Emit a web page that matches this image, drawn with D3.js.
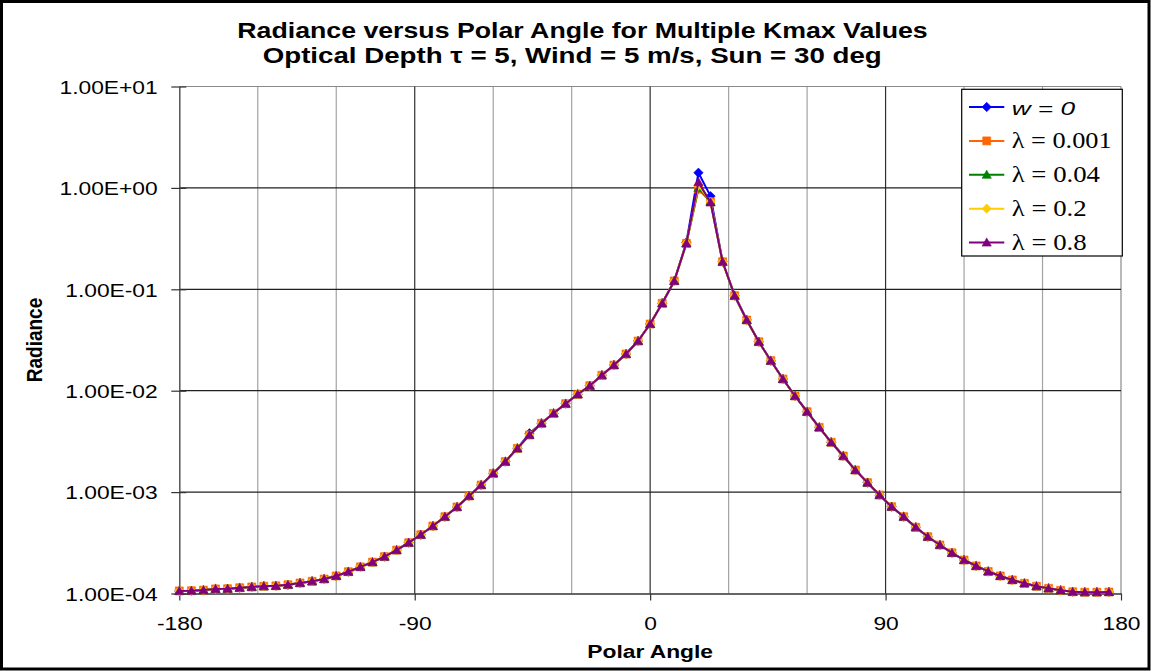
<!DOCTYPE html>
<html>
<head>
<meta charset="utf-8">
<script src="https://cdn.jsdelivr.net/npm/d3@7"></script>
<style>
  html, body { margin: 0; padding: 0; background: #ffffff; }
  svg { display: block; }
</style>
</head>
<body>
<svg id="chart" width="1151" height="671"></svg>
<script>
// Polar angles (degrees) at which radiance was computed
const angles = [
  -180.00, -175.38, -170.77, -166.15, -161.54, -156.92, -152.31, -147.69, -143.08, -138.46,
  -133.85, -129.23, -124.62, -120.00, -115.38, -110.77, -106.15, -101.54, -96.92, -92.31,
  -87.69, -83.08, -78.46, -73.85, -69.23, -64.62, -60.00, -55.38, -50.77, -46.15,
  -41.54, -36.92, -32.31, -27.69, -23.08, -18.46, -13.85, -9.23, -4.62, 0.00,
  4.62, 9.23, 13.85, 18.46, 23.08, 27.69, 32.31, 36.92, 41.54, 46.15,
  50.77, 55.38, 60.00, 64.62, 69.23, 73.85, 78.46, 83.08, 87.69, 92.31,
  96.92, 101.54, 106.15, 110.77, 115.38, 120.00, 124.62, 129.23, 133.85, 138.46,
  143.08, 147.69, 152.31, 156.92, 161.54, 166.15, 170.77, 175.38
];

// Radiance, w = 0
const radianceW0 = [
  1.06e-4, 1.065e-4, 1.08e-4, 1.11e-4, 1.115e-4, 1.14e-4, 1.16e-4, 1.18e-4, 1.19e-4, 1.22e-4,
  1.27e-4, 1.32e-4, 1.39e-4, 1.49e-4, 1.64e-4, 1.83e-4, 2.04e-4, 2.31e-4, 2.68e-4, 3.17e-4,
  3.80e-4, 4.63e-4, 5.72e-4, 7.13e-4, 9.16e-4, 1.175e-3, 1.53e-3, 2.00e-3, 2.70e-3, 3.80e-3,
  4.77e-3, 5.98e-3, 7.45e-3, 9.22e-3, 1.12e-2, 1.42e-2, 1.79e-2, 2.30e-2, 3.09e-2, 4.55e-2,
  7.28e-2, 0.121, 0.29, 1.41, 0.83, 0.187, 0.0865, 0.0498, 0.0304, 0.01977,
  0.01304, 8.87e-3, 6.21e-3, 4.35e-3, 3.10e-3, 2.27e-3, 1.65e-3, 1.24e-3, 9.36e-4, 7.18e-4,
  5.72e-4, 4.50e-4, 3.63e-4, 3.01e-4, 2.52e-4, 2.14e-4, 1.87e-4, 1.65e-4, 1.49e-4, 1.36e-4,
  1.26e-4, 1.18e-4, 1.125e-4, 1.075e-4, 1.04e-4, 1.03e-4, 1.03e-4, 1.035e-4
];

// Radiance, lambda = 0.001
const radianceL0001 = [
  1.06e-4, 1.065e-4, 1.08e-4, 1.11e-4, 1.115e-4, 1.14e-4, 1.16e-4, 1.18e-4, 1.19e-4, 1.22e-4,
  1.27e-4, 1.32e-4, 1.39e-4, 1.49e-4, 1.64e-4, 1.83e-4, 2.04e-4, 2.31e-4, 2.68e-4, 3.17e-4,
  3.80e-4, 4.63e-4, 5.72e-4, 7.13e-4, 9.16e-4, 1.175e-3, 1.53e-3, 2.00e-3, 2.70e-3, 3.66e-3,
  4.77e-3, 5.98e-3, 7.45e-3, 9.22e-3, 1.12e-2, 1.42e-2, 1.79e-2, 2.30e-2, 3.09e-2, 4.55e-2,
  7.28e-2, 0.121, 0.284, 0.97, 0.73, 0.187, 0.0865, 0.0498, 0.0304, 0.01977,
  0.01304, 8.87e-3, 6.21e-3, 4.35e-3, 3.10e-3, 2.27e-3, 1.65e-3, 1.24e-3, 9.36e-4, 7.18e-4,
  5.72e-4, 4.50e-4, 3.63e-4, 3.01e-4, 2.52e-4, 2.14e-4, 1.87e-4, 1.65e-4, 1.49e-4, 1.36e-4,
  1.26e-4, 1.18e-4, 1.125e-4, 1.075e-4, 1.04e-4, 1.03e-4, 1.03e-4, 1.035e-4
];

// Radiance, lambda = 0.04
const radianceL004 = [
  1.06e-4, 1.065e-4, 1.08e-4, 1.11e-4, 1.115e-4, 1.14e-4, 1.16e-4, 1.18e-4, 1.19e-4, 1.22e-4,
  1.27e-4, 1.32e-4, 1.39e-4, 1.49e-4, 1.64e-4, 1.83e-4, 2.04e-4, 2.31e-4, 2.68e-4, 3.17e-4,
  3.80e-4, 4.63e-4, 5.72e-4, 7.13e-4, 9.16e-4, 1.175e-3, 1.53e-3, 2.00e-3, 2.70e-3, 3.66e-3,
  4.77e-3, 5.98e-3, 7.45e-3, 9.22e-3, 1.12e-2, 1.42e-2, 1.79e-2, 2.30e-2, 3.09e-2, 4.55e-2,
  7.28e-2, 0.121, 0.284, 1.00, 0.73, 0.187, 0.0865, 0.0498, 0.0304, 0.01977,
  0.01304, 8.87e-3, 6.21e-3, 4.35e-3, 3.10e-3, 2.27e-3, 1.65e-3, 1.24e-3, 9.36e-4, 7.18e-4,
  5.72e-4, 4.50e-4, 3.63e-4, 3.01e-4, 2.52e-4, 2.14e-4, 1.87e-4, 1.65e-4, 1.49e-4, 1.36e-4,
  1.26e-4, 1.18e-4, 1.125e-4, 1.075e-4, 1.04e-4, 1.03e-4, 1.03e-4, 1.035e-4
];

// Radiance, lambda = 0.2
const radianceL02 = [
  1.06e-4, 1.065e-4, 1.08e-4, 1.11e-4, 1.115e-4, 1.14e-4, 1.16e-4, 1.18e-4, 1.19e-4, 1.22e-4,
  1.27e-4, 1.32e-4, 1.39e-4, 1.49e-4, 1.64e-4, 1.83e-4, 2.04e-4, 2.31e-4, 2.68e-4, 3.17e-4,
  3.80e-4, 4.63e-4, 5.72e-4, 7.13e-4, 9.16e-4, 1.175e-3, 1.53e-3, 2.00e-3, 2.70e-3, 3.66e-3,
  4.77e-3, 5.98e-3, 7.45e-3, 9.22e-3, 1.12e-2, 1.42e-2, 1.79e-2, 2.30e-2, 3.09e-2, 4.55e-2,
  7.28e-2, 0.121, 0.284, 1.06, 0.73, 0.187, 0.0865, 0.0498, 0.0304, 0.01977,
  0.01304, 8.87e-3, 6.21e-3, 4.35e-3, 3.10e-3, 2.27e-3, 1.65e-3, 1.24e-3, 9.36e-4, 7.18e-4,
  5.72e-4, 4.50e-4, 3.63e-4, 3.01e-4, 2.52e-4, 2.14e-4, 1.87e-4, 1.65e-4, 1.49e-4, 1.36e-4,
  1.26e-4, 1.18e-4, 1.125e-4, 1.075e-4, 1.04e-4, 1.03e-4, 1.03e-4, 1.035e-4
];

// Radiance, lambda = 0.8
const radianceL08 = [
  1.06e-4, 1.065e-4, 1.08e-4, 1.11e-4, 1.115e-4, 1.14e-4, 1.16e-4, 1.18e-4, 1.19e-4, 1.22e-4,
  1.27e-4, 1.32e-4, 1.39e-4, 1.49e-4, 1.64e-4, 1.83e-4, 2.04e-4, 2.31e-4, 2.68e-4, 3.17e-4,
  3.80e-4, 4.63e-4, 5.72e-4, 7.13e-4, 9.16e-4, 1.175e-3, 1.53e-3, 2.00e-3, 2.70e-3, 3.66e-3,
  4.77e-3, 5.98e-3, 7.45e-3, 9.22e-3, 1.12e-2, 1.42e-2, 1.79e-2, 2.30e-2, 3.09e-2, 4.55e-2,
  7.28e-2, 0.121, 0.284, 1.14, 0.72, 0.187, 0.0865, 0.0498, 0.0304, 0.01977,
  0.01304, 8.87e-3, 6.21e-3, 4.35e-3, 3.10e-3, 2.27e-3, 1.65e-3, 1.24e-3, 9.36e-4, 7.18e-4,
  5.72e-4, 4.50e-4, 3.63e-4, 3.01e-4, 2.52e-4, 2.14e-4, 1.87e-4, 1.65e-4, 1.49e-4, 1.36e-4,
  1.26e-4, 1.18e-4, 1.125e-4, 1.075e-4, 1.04e-4, 1.03e-4, 1.03e-4, 1.035e-4
];

const seriesNames = ["w = 0", "λ = 0.001", "λ = 0.04", "λ = 0.2", "λ = 0.8"];
const seriesValues = [radianceW0, radianceL0001, radianceL004, radianceL02, radianceL08];
const seriesColors = ["#0000FF", "#FF6600", "#008000", "#FFCC00", "#800080"];
const seriesMarkers = ["diamond", "square", "triangle", "diamond", "triangle"];

const xTickValues = [-180, -90, 0, 90, 180];
const xTickLabels = ["-180", "-90", "0", "90", "180"];
const xMinorGrid = [-150, -120, -60, -30, 30, 60, 120, 150];
const yTickValues = [1e1, 1e0, 1e-1, 1e-2, 1e-3, 1e-4];
const yTickLabels = ["1.00E+01", "1.00E+00", "1.00E-01", "1.00E-02", "1.00E-03", "1.00E-04"];

const titleLine1 = "Radiance versus Polar Angle for Multiple Kmax Values";
const titleLine2 = "Optical Depth τ = 5, Wind = 5 m/s, Sun = 30 deg";
const xTitle = "Polar Angle";
const yTitle = "Radiance";

// ---- layout ----
const W = 1151, H = 671;
const plot = { left: 179.3, right: 1121, top: 86.5, bottom: 593.5 };
const SANS = "'Liberation Sans', Arial, sans-serif";
const SERIF = "'Liberation Serif', 'Times New Roman', serif";
const STRETCH = 1.2;   // horizontal widening of the lettering

const svg = d3.select("#chart");

svg.append("rect").attr("x", 0).attr("y", 0).attr("width", W).attr("height", H).attr("fill", "#fff");

const x = d3.scaleLinear().domain([-180, 180]).range([plot.left, plot.right]);
const y = d3.scaleLog().domain([1e-4, 1e1]).range([plot.bottom, plot.top]);

// ---- gridlines ----
const grid = svg.append("g");
grid.selectAll("line.minor").data(xMinorGrid).join("line")
  .attr("x1", d => x(d)).attr("x2", d => x(d))
  .attr("y1", plot.top).attr("y2", plot.bottom)
  .attr("stroke", "#a3a3a3").attr("stroke-width", 1.2);
// plot area frame (top and right)
grid.append("line").attr("x1", plot.left).attr("x2", plot.right)
  .attr("y1", plot.top).attr("y2", plot.top).attr("stroke", "#8a8a8a").attr("stroke-width", 1.2);
grid.append("line").attr("x1", plot.right).attr("x2", plot.right)
  .attr("y1", plot.top).attr("y2", plot.bottom).attr("stroke", "#8a8a8a").attr("stroke-width", 1.2);
grid.selectAll("line.majx").data([-90, 0, 90]).join("line")
  .attr("x1", d => x(d)).attr("x2", d => x(d))
  .attr("y1", plot.top).attr("y2", plot.bottom)
  .attr("stroke", "#303030").attr("stroke-width", 1.2);
grid.selectAll("line.majy").data(yTickValues.slice(1, 5)).join("line")
  .attr("x1", plot.left).attr("x2", plot.right)
  .attr("y1", d => y(d)).attr("y2", d => y(d))
  .attr("stroke", "#202020").attr("stroke-width", 1.2);

// ---- axes ----
const yAxis = svg.append("g")
  .attr("transform", `translate(${plot.left},0)`)
  .call(d3.axisLeft(y).tickValues(yTickValues).tickFormat((d, i) => yTickLabels[i])
    .tickSizeInner(8).tickSizeOuter(0).tickPadding(0));
yAxis.select(".domain").attr("stroke", "#555").attr("stroke-width", 1.5);
yAxis.selectAll(".tick line").attr("x1", 7).attr("stroke", "#333").attr("stroke-width", 1.2);
yAxis.selectAll(".tick text")
  .attr("font-family", SANS).attr("font-size", 19).attr("fill", "#000")
  .attr("x", -21.6 / STRETCH).attr("dy", "0.36em")
  .attr("transform", `scale(${STRETCH},1)`);

const xAxis = svg.append("g")
  .attr("transform", `translate(0,${plot.bottom})`)
  .call(d3.axisBottom(x).tickValues(xTickValues).tickFormat((d, i) => xTickLabels[i])
    .tickSizeInner(7).tickSizeOuter(0).tickPadding(0));
xAxis.select(".domain").attr("stroke", "#333").attr("stroke-width", 1.5);
xAxis.selectAll(".tick line").attr("stroke", "#333").attr("stroke-width", 1.2);
xAxis.selectAll(".tick text")
  .attr("font-family", SANS).attr("font-size", 19).attr("fill", "#000")
  .attr("y", 0).attr("dy", 0)
  .attr("transform", `translate(0,36) scale(${STRETCH},1)`);

// ---- marker shapes ----
function markerPath(kind) {
  if (kind === "diamond") return "M0,-4.7L4.7,0L0,4.7L-4.7,0Z";
  if (kind === "square") return "M-4,-4H4V4H-4Z";
  return "M0,-4.6L4.6,3.6H-4.6Z";
}

// ---- series ----
const line = d3.line().x(d => x(d[0])).y(d => y(d[1]));
seriesValues.forEach((vals, s) => {
  const pts = angles.map((a, i) => [a, vals[i]]);
  const g = svg.append("g");
  g.append("path").datum(pts).attr("d", line)
    .attr("fill", "none").attr("stroke", seriesColors[s]).attr("stroke-width", 2)
    .attr("stroke-linejoin", "round");
  g.selectAll("path.m").data(pts).join("path")
    .attr("d", markerPath(seriesMarkers[s]))
    .attr("transform", d => `translate(${x(d[0])},${y(d[1])})`)
    .attr("fill", seriesColors[s]).attr("stroke", seriesColors[s]).attr("stroke-width", 0.6);
});

// ---- titles ----
svg.append("text").text(titleLine1)
  .attr("x", 237.3).attr("y", 38.3)
  .attr("font-family", SANS).attr("font-weight", "bold").attr("font-size", 22)
  .attr("textLength", 690.4).attr("lengthAdjust", "spacingAndGlyphs");
svg.append("text").text(titleLine2)
  .attr("x", 262.7).attr("y", 63.3)
  .attr("font-family", SANS).attr("font-weight", "bold").attr("font-size", 22)
  .attr("textLength", 619).attr("lengthAdjust", "spacingAndGlyphs");

svg.append("text").text(xTitle)
  .attr("text-anchor", "middle")
  .attr("transform", `translate(${x(0)},658) scale(${STRETCH},1)`)
  .attr("font-family", SANS).attr("font-weight", "bold").attr("font-size", 19);

svg.append("text").text(yTitle)
  .attr("text-anchor", "middle")
  .attr("transform", `translate(42,${(plot.top + plot.bottom) / 2}) scale(${STRETCH},1) rotate(-90)`)
  .attr("font-family", SANS).attr("font-weight", "bold").attr("font-size", 19);

// ---- legend ----
const legend = svg.append("g");
legend.append("rect").attr("x", 961.7).attr("y", 89.3).attr("width", 160.6).attr("height", 166.7)
  .attr("fill", "#fff").attr("stroke", "#000").attr("stroke-width", 1.2);
const rowY = d3.scalePoint().domain(d3.range(seriesNames.length)).range([107, 242.5]);
const legendTextWidths = [63.3, 100, 88.3, 75, 75];
seriesNames.forEach((name, s) => {
  const cy = rowY(s);
  legend.append("line").attr("x1", 969).attr("x2", 1004.3).attr("y1", cy).attr("y2", cy)
    .attr("stroke", seriesColors[s]).attr("stroke-width", 2);
  legend.append("path").attr("d", markerPath(seriesMarkers[s]))
    .attr("transform", `translate(986.7,${cy})`)
    .attr("fill", seriesColors[s]).attr("stroke", seriesColors[s]).attr("stroke-width", 0.6);
  const t = legend.append("text").text(name)
    .attr("x", 1011.7).attr("y", cy + 7.5)
    .attr("textLength", legendTextWidths[s]).attr("lengthAdjust", "spacingAndGlyphs");
  if (s === 0) {
    t.attr("font-family", SANS).attr("font-style", "italic").attr("font-size", 19);
  } else {
    t.attr("font-family", SERIF).attr("font-size", 23);
  }
});

// ---- outer frame ----
svg.append("rect").attr("x", 1.5).attr("y", 1.5).attr("width", W - 3.5).attr("height", H - 3.5)
  .attr("fill", "none").attr("stroke", "#000").attr("stroke-width", 3);
</script>
</body>
</html>
